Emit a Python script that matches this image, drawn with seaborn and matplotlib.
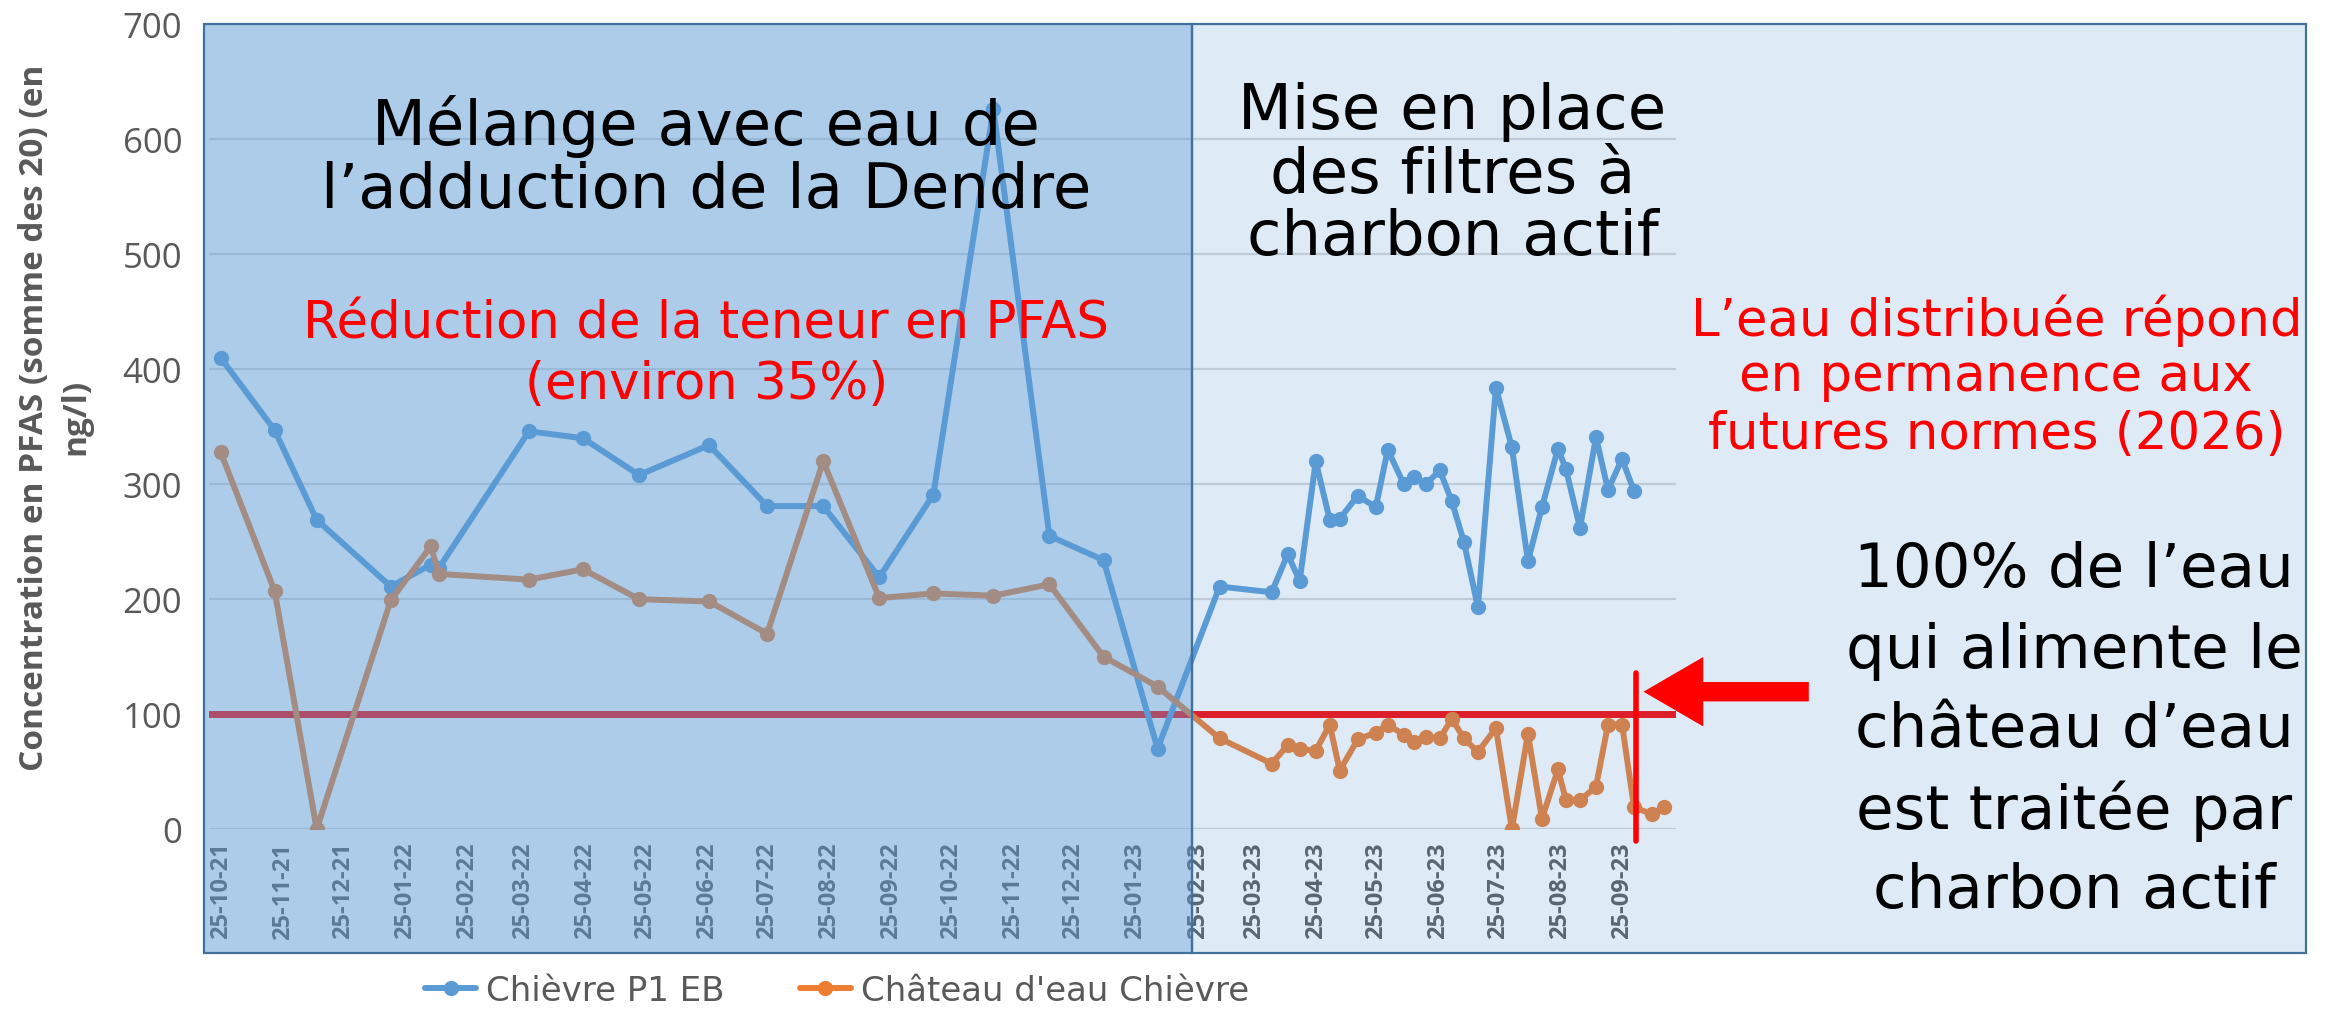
import pandas as pd
import seaborn as sns
import matplotlib.pyplot as plt
import matplotlib.dates as mdates
from matplotlib.patches import Rectangle, FancyArrowPatch
from matplotlib.lines import Line2D

sns.set_style('white')
plt.rcParams['font.family'] = ['Open Sans', 'DejaVu Sans']

#%% data
blue_dates = ['2021-10-25', '2021-11-21', '2021-12-12', '2022-01-18', '2022-02-07', '2022-02-11',
              '2022-03-28', '2022-04-24', '2022-05-22', '2022-06-26', '2022-07-25', '2022-08-22',
              '2022-09-19', '2022-10-16', '2022-11-15', '2022-12-13', '2023-01-09', '2023-02-05',
              '2023-03-08', '2023-04-03', '2023-04-11', '2023-04-17', '2023-04-25', '2023-05-02',
              '2023-05-07', '2023-05-16', '2023-05-25', '2023-05-31', '2023-06-08', '2023-06-13',
              '2023-06-19', '2023-06-26', '2023-07-02', '2023-07-08', '2023-07-15', '2023-07-24',
              '2023-08-01', '2023-08-09', '2023-08-16', '2023-08-24', '2023-08-28', '2023-09-04',
              '2023-09-12', '2023-09-18', '2023-09-25', '2023-10-01']
blue_values = [410, 347, 269, 211, 230, 227, 346, 340, 308, 334, 281, 281, 219, 291, 626, 255, 234, 70,
               211, 206, 239, 216, 320, 269, 270, 290, 280, 330, 300, 306, 300, 312, 285, 250, 193, 384,
               332, 233, 280, 331, 313, 262, 341, 295, 322, 294]

orange_dates = blue_dates + ['2023-10-10', '2023-10-16']
orange_values = [328, 207, 0, 199, 246, 222, 217, 226, 200, 198, 170, 320, 201, 205, 203, 213, 150, 124,
                 79, 57, 73, 70, 68, 91, 51, 78, 84, 91, 82, 76, 80, 79, 96, 79, 67, 88,
                 0, 83, 9, 52, 25, 25, 37, 91, 91, 19, 13, 19]

blue_name = 'Chièvre P1 EB'
orange_name = "Château d'eau Chièvre"
norm_value = 100
y_ticks = [0, 100, 200, 300, 400, 500, 600, 700]
x_ticks = pd.date_range('2021-10-25', '2023-09-25', freq=pd.DateOffset(months=1))
filter_start = pd.Timestamp('2023-02-22')
full_water_date = pd.Timestamp('2023-10-02')

df_blue = pd.DataFrame({'date': pd.to_datetime(blue_dates), 'value': blue_values})
df_orange = pd.DataFrame({'date': pd.to_datetime(orange_dates), 'value': orange_values})

#%% plot
fig = plt.figure(figsize=(23.36, 10.12), dpi=100)
ax = fig.add_axes([0.0893, 0.1797, 0.6282, 0.7953])

sns.lineplot(data=df_blue, x='date', y='value', color='#5B9BD5', marker='o', markersize=11,
             markeredgewidth=0, linewidth=4.3, label=blue_name, ax=ax, zorder=3)
sns.lineplot(data=df_orange, x='date', y='value', color='#ED7D31', marker='o', markersize=11,
             markeredgewidth=0, linewidth=4.3, label=orange_name, ax=ax, zorder=4)
ax.axhline(norm_value, color='#FF0000', lw=5, zorder=2)

ax.set_ylim(0, 700)
ax.set_xlim(pd.Timestamp('2021-10-19'), pd.Timestamp('2023-10-22'))
ax.set_yticks(y_ticks)
ax.set_xticks(x_ticks)
ax.xaxis.set_major_formatter(mdates.DateFormatter('%d-%m-%y'))
ax.grid(axis='y', color='#D9D9D9', lw=1.6)
ax.set_axisbelow(True)
for s in ax.spines.values():
    s.set_visible(False)
ax.tick_params(axis='x', length=0, pad=9, labelsize=17, labelcolor='#595959', rotation=90)
ax.tick_params(axis='y', length=0, pad=19, labelsize=25, labelcolor='#595959')
for lab in ax.get_xticklabels():
    lab.set_fontweight('bold')
ax.set_xlabel('')
ax.set_ylabel('')

fig.text(0.0236, 0.5876, 'Concentration en PFAS (somme des 20) (en\nng/l)', rotation=90,
         ha='center', va='center', multialignment='center', fontsize=24, fontweight='bold',
         color='#595959', linespacing=1.3)

handles, labels = ax.get_legend_handles_labels()
ax.get_legend().remove()
fig.legend(handles, labels, loc='center', bbox_to_anchor=(0.3584, 0.0206), ncol=2, frameon=False,
           prop={'family': ['Liberation Sans Narrow', 'DejaVu Sans'], 'size': 24.5},
           handlelength=1.5, handletextpad=0.3, columnspacing=2.2, labelcolor='#595959')

# translucent boxes laid over the chart
to_fig = fig.transFigure.inverted()
sep_x = to_fig.transform(ax.transData.transform((mdates.date2num(filter_start), 0)))[0]
vline_x = to_fig.transform(ax.transData.transform((mdates.date2num(full_water_date), 0)))[0]
box_left, box_right, box_bottom, box_top = 0.0874, 0.9872, 0.0574, 0.975
fig.add_artist(Rectangle((box_left, box_bottom), sep_x - box_left, box_top - box_bottom,
                         transform=fig.transFigure, facecolor='#5B9BD5', alpha=0.5, lw=0, zorder=5))
fig.add_artist(Rectangle((sep_x, box_bottom), box_right - sep_x, box_top - box_bottom,
                         transform=fig.transFigure, facecolor='#5B9BD5', alpha=0.2, lw=0, zorder=5))
for x0, w in [(box_left, sep_x - box_left), (sep_x, box_right - sep_x)]:
    fig.add_artist(Rectangle((x0, box_bottom), w, box_top - box_bottom, transform=fig.transFigure,
                             facecolor='none', edgecolor='#41719C', lw=1.6, zorder=6))

# annotations
fig.add_artist(Line2D([vline_x, vline_x], [0.168, 0.334], transform=fig.transFigure,
                      color='#FF0000', lw=4, zorder=7))
fig.add_artist(FancyArrowPatch((0.7755, 0.3155), (vline_x + 0.002, 0.3155), transform=fig.transFigure,
                               arrowstyle='simple,head_length=4.3,head_width=5,tail_width=1.4',
                               mutation_scale=10, color='#FF0000', lw=0, zorder=7))

ann = 'DejaVu Sans'
blocks = [
    (0.3023, ['Mélange avec eau de', 'l\u2019adduction de la Dendre'], [0.8748, 0.8115], 'black', 45),
    (0.3023, ['Réduction de la teneur en PFAS', '(environ 35%)'], [0.679, 0.620], '#FF0000', 37),
    (0.6218, ['Mise en place', 'des filtres à', 'charbon actif'], [0.8895, 0.8262, 0.7644], 'black', 45),
    (0.8546, ['L\u2019eau distribuée répond', 'en permanence aux', 'futures normes (2026)'],
     [0.6834, 0.6274, 0.570], '#FF0000', 37),
    (0.8878, ['100% de l\u2019eau', 'qui alimente le', 'château d\u2019eau', 'est traitée par', 'charbon actif'],
     [0.436, 0.3564, 0.2784, 0.1988, 0.1193], 'black', 44),
]
for x, lines, ys, col, size in blocks:
    for line, y in zip(lines, ys):
        fig.text(x, y, line, ha='center', va='center', color=col, fontsize=size, family=ann, zorder=8)

fig.savefig('out.png', dpi=100)
